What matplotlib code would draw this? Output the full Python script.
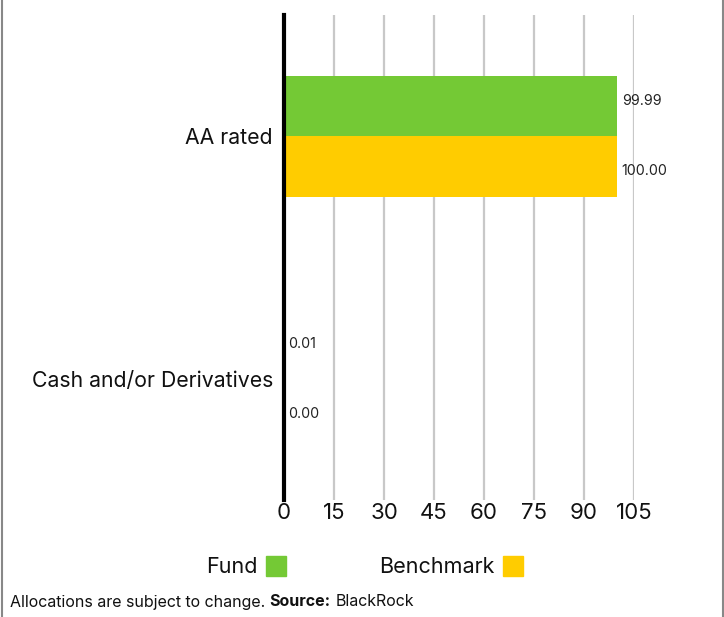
import matplotlib
matplotlib.use("Agg")
import matplotlib.pyplot as plt
from matplotlib.lines import Line2D
from matplotlib.patches import Rectangle
import numpy as np

categories = ["AA rated", "Cash and/or Derivatives"]
fund = [99.99, 0.01]
benchmark = [100.00, 0.00]
fund_labels = ["99.99", "0.01"]
bench_labels = ["100.00", "0.00"]
xticks = [0, 15, 30, 45, 60, 75, 90, 105]

GREEN = "#74c935"
YELLOW = "#ffcc00"

plt.rcParams["font.family"] = ["Inter", "DejaVu Sans"]

fig = plt.figure(figsize=(7.24, 6.17), dpi=100)
ax = fig.add_axes([284 / 724, 117 / 617, 350 / 724, 485 / 617])

y = np.arange(len(categories))
h = 0.25
ax.barh(y - h / 2, fund, height=h, color=GREEN, zorder=3)
ax.barh(y + h / 2, benchmark, height=h, color=YELLOW, zorder=3)

for i in range(len(categories)):
    ax.text(fund[i] + 1.3, y[i] - h / 2 - 0.02, fund_labels[i], va="center", ha="left",
            fontsize=10.3, color="#222222")
    ax.text(benchmark[i] + 1.3, y[i] + h / 2 + 0.02, bench_labels[i], va="center", ha="left",
            fontsize=10.3, color="#222222")

ax.set_xlim(0, 105)
ax.set_ylim(1.5, -0.5)
ax.set_xticks(xticks)
ax.set_xticklabels([str(t) for t in xticks], fontsize=16, color="#111111")
ax.set_yticks(y)
ax.set_yticklabels(categories, fontsize=15.3, color="#111111")
ax.tick_params(length=0)
ax.tick_params(axis="x", pad=2)
ax.tick_params(axis="y", pad=8)

for s in ["top", "right", "bottom"]:
    ax.spines[s].set_visible(False)
ax.spines["left"].set_linewidth(3)
ax.spines["left"].set_color("black")
ax.spines["left"].set_zorder(4)
ax.xaxis.grid(True, color="#c8c8c8", linewidth=1.6, zorder=0)
ax.set_axisbelow(True)

# legend
fig.text(258 / 724, 1 - 567 / 617, "Fund", ha="right", va="center", fontsize=15.5, color="#111111")
fig.patches.append(Rectangle((266 / 724, 1 - 576 / 617), 20 / 724, 20 / 617,
                             transform=fig.transFigure, color=GREEN))
fig.text(495 / 724, 1 - 567 / 617, "Benchmark", ha="right", va="center", fontsize=15.5,
         color="#111111")
fig.patches.append(Rectangle((503 / 724, 1 - 576 / 617), 20 / 724, 20 / 617,
                             transform=fig.transFigure, color=YELLOW))

# footer
t1 = fig.text(10 / 724, 1 - 602 / 617, "Allocations are subject to change. ", ha="left",
              va="center", fontsize=11.5, color="#111111")
fig.canvas.draw()
bb = t1.get_window_extent()
t2 = fig.text(bb.x1 / 724, 1 - 602 / 617, "Source:", ha="left", va="center", fontsize=11.5,
              fontweight="bold", color="#111111")
bb2 = t2.get_window_extent()
fig.text(bb2.x1 / 724 + 0.006, 1 - 602 / 617, "BlackRock", ha="left", va="center",
         fontsize=11.5, color="#111111")

# frame lines
fig.lines.append(Line2D([1.5 / 724, 1.5 / 724], [0, 1], transform=fig.transFigure,
                        color="#888888", linewidth=1.5))
fig.lines.append(Line2D([722.5 / 724, 722.5 / 724], [0, 1], transform=fig.transFigure,
                        color="#888888", linewidth=1.5))

fig.savefig("out.png", dpi=100)
plt.close(fig)
